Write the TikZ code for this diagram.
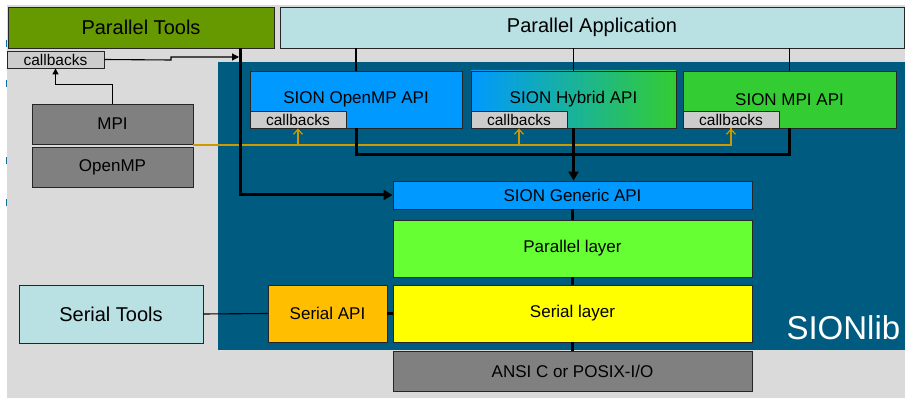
\documentclass[tikz,border=0pt]{standalone}
\usepackage{fontspec}
\setmainfont{Liberation Sans}
\usetikzlibrary{arrows.meta}
\definecolor{bggray}{HTML}{DADADA}
\definecolor{sionblue}{HTML}{005B80}
\definecolor{tickblue}{HTML}{1070A0}
\definecolor{ptgreen}{HTML}{669900}
\definecolor{lightcyan}{HTML}{B9E0E3}
\definecolor{cbgray}{HTML}{CCCCCC}
\definecolor{midgray}{HTML}{808080}
\definecolor{apiblue}{HTML}{0099FF}
\definecolor{mpigreen}{HTML}{33CC33}
\definecolor{pargreen}{HTML}{66FF33}
\definecolor{seryellow}{HTML}{FFFF00}
\definecolor{serorange}{HTML}{FFBF00}
\definecolor{goldline}{HTML}{CC9900}
\begin{document}
\begin{tikzpicture}[x=1pt,y=-1pt,
    blk/.style={draw=black!85,line width=0.9pt,inner sep=0pt,font=\fontsize{17}{20}\selectfont},
    big/.style={font=\fontsize{20}{24}\selectfont},
    cb/.style={blk,fill=cbgray,minimum width=96pt,minimum height=17pt,font=\fontsize{15.5}{17}\selectfont},
    api/.style={blk,minimum height=57pt},
    thin/.style={line width=1.1pt},
    fat/.style={line width=3pt},
    gold/.style={draw=goldline,line width=1.2pt}]
  \useasboundingbox (0,0) rectangle (905,398);
  \fill[bggray] (7,5) rectangle (905,398);
  \foreach \ty in {40,80,157,199}
    \fill[tickblue] (5.5,\ty) rectangle (7,\ty+7);
  \fill[sionblue] (218,62) rectangle (905,350);
  \node[text=white,anchor=base west,font=\fontsize{33}{36}\selectfont] (sionlib) at (783,339) {SIONlib};

  \node[blk,big,fill=ptgreen,minimum width=266pt,minimum height=41pt] (ptools) at (141,27.5) {Parallel Tools};
  \node[blk,big,fill=lightcyan,minimum width=624pt,minimum height=41pt] (papp) at (592,27.5) {Parallel Application};
  \node[cb,minimum width=97pt] (cbtools) at (55.5,59.5) {callbacks};
  \node[blk,fill=midgray,minimum width=161pt,minimum height=40pt] (mpi) at (112.5,124) {MPI};
  \node[blk,fill=midgray,minimum width=161pt,minimum height=40pt] (openmp) at (112.5,167) {OpenMP};

  \node[api,fill=apiblue,minimum width=212pt] (ompapi) at (356,99.5) {SION OpenMP API};
  \node[api,left color=apiblue,middle color=apiblue,right color=mpigreen,minimum width=205pt] (hybapi) at (573.5,99.5) {SION Hybrid API};
  \node[api,fill=mpigreen,minimum width=213pt] (mpiapi) at (789.5,99.5) {SION MPI API};
  \node[cb] (cbomp) at (298,119.5) {callbacks};
  \node[cb] (cbhyb) at (519,119.5) {callbacks};
  \node[cb] (cbmpi) at (731,119.5) {callbacks};

  \node[blk,fill=apiblue,minimum width=359pt,minimum height=28pt] (generic) at (572.5,195) {SION Generic API};
  \node[blk,fill=pargreen,minimum width=359pt,minimum height=57pt] (parlayer) at (572.5,248.5) {Parallel layer};
  \node[blk,fill=seryellow,minimum width=359pt,minimum height=57pt] (serlayer) at (572.5,313.5) {Serial layer};
  \node[blk,fill=midgray,minimum width=359pt,minimum height=40pt] (ansi) at (572.5,371) {ANSI C or POSIX-I/O};
  \node[blk,fill=serorange,minimum width=119pt,minimum height=57pt] (serapi) at (327.5,313.5) {Serial API};
  \node[blk,big,fill=lightcyan,minimum width=184pt,minimum height=58pt] (sertools) at (111,314) {Serial Tools};

  \coordinate (tbus) at (240,48);
  \coordinate (tjoin) at (239,57);
  \coordinate (gsrc) at (193,145);

  \draw[gold] (gsrc) -| (cbmpi.south);
  \draw[gold,-{Straight Barb[length=5pt,width=9pt]}] (gsrc -| cbmpi.south) -- (cbmpi.south);
  \draw[gold,-{Straight Barb[length=5pt,width=9pt]}] (gsrc -| cbomp.south) -- (cbomp.south);
  \draw[gold,-{Straight Barb[length=5pt,width=9pt]}] (gsrc -| cbhyb.south) -- (cbhyb.south);

  \draw[thin] (ompapi.north |- papp.south) -- (ompapi.north);
  \draw[thin] (hybapi.north |- papp.south) -- (hybapi.north);
  \draw[thin] (mpiapi.north |- papp.south) -- (mpiapi.north);
  \draw[thin,-{Triangle[length=7pt,width=7pt]}] (cbtools.east) -- (171,60) -- (171,57) -- (tjoin);
  \draw[thin,-{Triangle[length=6pt,width=6pt]}] (mpi.north) -- ++(0,-19) -| (cbtools.south);
  \draw[thin] (sertools.east) -- (serapi.west);

  \draw[fat,-{Triangle[length=9pt,width=10pt]}] (tbus) |- (generic.west);
  \draw[fat] (ompapi.south) -- ++(0,26) -| (mpiapi.south);
  \draw[fat,-{Triangle[length=9pt,width=10pt]}] (hybapi.south) -- (hybapi.south |- generic.north);
  \draw[fat] (generic.south) -- (parlayer.north);
  \draw[fat] (parlayer.south) -- (serlayer.north);
  \draw[fat] (serlayer.south) -- (ansi.north);
  \draw[fat] (serapi.east) -- (serlayer.west);
\end{tikzpicture}
\end{document}
